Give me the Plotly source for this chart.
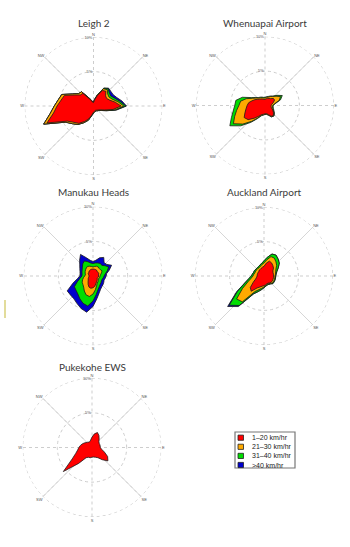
import plotly.graph_objects as go

W, H = 350, 547

directions = list(range(0, 360, 10))
speed_classes = ["1\u201320 km/hr", "21\u201330 km/hr", "31\u201340 km/hr", ">40 km/hr"]
class_colors = ["#ff0000", "#ffaa00", "#00dd00", "#0000cc"]
compass_vals = [0, 45, 90, 135, 180, 225, 270, 315]
compass_text = ["N", "NE", "E", "SE", "S", "SW", "W", "NW"]
radial_ticks = [5, 10]
radial_text = ["5%", "10%"]

# frequencies (%) per 10-degree direction bin, per speed class
leigh_1_20 = [0.5, 0.9, 1.6, 2.6, 2.8, 2.3, 2.2, 2.5, 3.2, 4.0, 2.9, 1.7, 1.1, 0.9, 0.8, 0.7, 0.7, 0.8,
              0.9, 1.3, 2.0, 2.6, 3.3, 3.7, 4.4, 7.2, 5.9, 5.3, 4.8, 4.5, 3.2, 2.5, 2.4, 1.2, 0.8, 0.5]
leigh_21_30 = [0.1, 0.1, 0.2, 0.3, 0.3, 0.4, 0.4, 0.4, 0.4, 0.4, 0.3, 0.2, 0.2, 0.1, 0.1, 0.1, 0.1, 0.1,
               0.1, 0.1, 0.2, 0.2, 0.2, 0.3, 0.3, 0.5, 0.5, 0.4, 0.4, 0.4, 0.3, 0.3, 0.3, 0.2, 0.1, 0.1]
leigh_31_40 = [0.0, 0.0, 0.0, 0.1, 0.2, 0.3, 0.3, 0.4, 0.3, 0.3, 0.1, 0.1, 0.0, 0.0, 0.0, 0.0, 0.0, 0.0,
               0.0, 0.0, 0.0, 0.0, 0.0, 0.0, 0.0, 0.0, 0.0, 0.0, 0.0, 0.0, 0.0, 0.0, 0.0, 0.0, 0.0, 0.0]
leigh_40 = [0.0, 0.0, 0.0, 0.0, 0.1, 0.3, 0.4, 0.3, 0.3, 0.1, 0.1, 0.0, 0.0, 0.0, 0.0, 0.0, 0.0, 0.0,
            0.0, 0.0, 0.0, 0.0, 0.0, 0.0, 0.0, 0.0, 0.0, 0.0, 0.0, 0.0, 0.0, 0.0, 0.0, 0.0, 0.0, 0.0]

whenuapai_1_20 = [0.9, 1.0, 1.1, 1.2, 1.3, 1.6, 1.6, 1.3, 1.0, 0.9, 0.9, 1.0, 1.3, 1.6, 1.9, 1.8, 1.4, 1.2,
                  1.2, 1.3, 1.4, 1.8, 2.4, 3.2, 3.5, 3.1, 2.8, 2.6, 2.4, 2.0, 1.7, 1.4, 1.2, 1.1, 1.0, 0.9]
whenuapai_21_30 = [0.2, 0.2, 0.2, 0.3, 0.4, 0.5, 1.0, 0.9, 0.4, 0.2, 0.2, 0.2, 0.1, 0.1, 0.1, 0.1, 0.1, 0.1,
                   0.1, 0.1, 0.1, 0.3, 0.6, 1.0, 1.8, 1.6, 1.4, 1.2, 1.2, 0.9, 0.4, 0.3, 0.2, 0.2, 0.2, 0.2]
whenuapai_31_40 = [0.1, 0.1, 0.1, 0.1, 0.1, 0.2, 0.3, 0.2, 0.1, 0.1, 0.1, 0.1, 0.1, 0.1, 0.0, 0.0, 0.0, 0.0,
                   0.0, 0.0, 0.1, 0.1, 0.2, 0.4, 0.6, 0.5, 0.5, 0.6, 0.7, 0.6, 0.2, 0.1, 0.1, 0.1, 0.1, 0.1]
whenuapai_40 = [0.0] * 36

manukau_1_20 = [1.0, 1.0, 1.0, 1.0, 0.9, 0.9, 0.9, 0.9, 0.8, 0.8, 0.8, 0.7, 0.7, 0.8, 0.9, 1.0, 1.2, 1.5,
                1.7, 1.8, 1.7, 1.4, 1.1, 0.9, 0.8, 0.7, 0.6, 0.6, 0.6, 0.7, 0.8, 0.8, 0.9, 0.9, 1.0, 1.0]
manukau_21_30 = [0.3, 0.4, 0.5, 0.5, 0.5, 0.5, 0.6, 0.4, 0.3, 0.2, 0.2, 0.2, 0.2, 0.2, 0.2, 0.2, 0.3, 0.5,
                 0.9, 1.2, 1.2, 1.1, 1.0, 1.0, 1.0, 0.9, 0.8, 0.6, 0.5, 0.5, 0.5, 0.6, 0.6, 0.7, 0.5, 0.4]
manukau_31_40 = [0.5, 0.5, 0.5, 0.6, 0.6, 0.9, 1.1, 0.9, 0.7, 0.6, 0.5, 0.5, 0.5, 0.5, 0.5, 0.6, 0.6, 0.7,
                 1.0, 1.4, 1.3, 1.3, 1.3, 1.3, 1.3, 0.8, 0.5, 0.4, 0.5, 0.5, 0.5, 0.6, 0.8, 0.9, 0.7, 0.5]
manukau_40 = [0.3, 0.4, 0.8, 1.0, 0.5, 0.3, 0.5, 0.3, 0.2, 0.3, 0.3, 0.3, 0.4, 0.4, 0.4, 0.4, 0.5, 0.6,
              0.8, 0.9, 0.8, 0.8, 0.9, 1.05, 1.2, 0.7, 0.4, 0.3, 0.3, 0.3, 0.4, 0.5, 0.7, 1.1, 0.6, 0.4]

auckland_1_20 = [1.4, 1.9, 2.3, 2.2, 2.0, 1.8, 1.5, 1.4, 1.4, 1.4, 1.4, 1.4, 1.4, 1.4, 1.3, 1.2, 1.2, 1.3,
                 1.4, 1.5, 1.7, 2.0, 2.9, 2.6, 1.8, 1.3, 1.1, 1.0, 1.0, 1.0, 1.0, 1.0, 1.1, 1.1, 1.2, 1.3]
auckland_21_30 = [0.5, 0.5, 0.7, 0.8, 0.7, 0.6, 0.5, 0.4, 0.3, 0.2, 0.2, 0.2, 0.2, 0.2, 0.1, 0.1, 0.1, 0.1,
                  0.2, 0.3, 0.4, 0.6, 2.0, 2.6, 1.8, 1.2, 0.8, 0.6, 0.5, 0.4, 0.4, 0.4, 0.3, 0.3, 0.3, 0.4]
auckland_31_40 = [0.3, 0.35, 0.4, 0.5, 0.5, 0.5, 0.4, 0.2, 0.1, 0.1, 0.1, 0.1, 0.1, 0.1, 0.1, 0.1, 0.1, 0.1,
                  0.1, 0.2, 0.3, 0.35, 0.7, 1.4, 0.85, 0.45, 0.35, 0.25, 0.2, 0.2, 0.2, 0.15, 0.15, 0.2, 0.2, 0.2]
auckland_40 = [0.0, 0.0, 0.0, 0.0, 0.0, 0.0, 0.0, 0.0, 0.0, 0.0, 0.0, 0.0, 0.0, 0.0, 0.0, 0.0, 0.0, 0.0,
               0.0, 0.0, 0.0, 0.05, 0.2, 0.3, 0.15, 0.05, 0.0, 0.0, 0.0, 0.0, 0.0, 0.0, 0.0, 0.0, 0.0, 0.0]

pukekohe_1_20 = [1.5, 2.0, 2.3, 2.0, 1.6, 1.3, 1.2, 1.2, 1.2, 1.2, 1.4, 1.9, 2.6, 3.0, 2.3, 1.7, 1.5, 1.4,
                 1.4, 1.5, 1.5, 1.7, 3.0, 5.4, 3.3, 2.5, 2.1, 1.9, 1.7, 1.5, 1.3, 1.1, 1.0, 0.9, 0.9, 1.1]
pukekohe_21_30 = [0.0] * 36
pukekohe_31_40 = [0.0] * 36
pukekohe_40 = [0.0] * 36

stations = ["Leigh 2", "Whenuapai Airport", "Manukau Heads", "Auckland Airport", "Pukekohe EWS"]
station_data = [
    [leigh_1_20, leigh_21_30, leigh_31_40, leigh_40],
    [whenuapai_1_20, whenuapai_21_30, whenuapai_31_40, whenuapai_40],
    [manukau_1_20, manukau_21_30, manukau_31_40, manukau_40],
    [auckland_1_20, auckland_21_30, auckland_31_40, auckland_40],
    [pukekohe_1_20, pukekohe_21_30, pukekohe_31_40, pukekohe_40],
]

# layout geometry (pixels): centre x, centre y, radius, title y
geom = [(93.5, 106, 69, 23), (265, 105.5, 69, 23), (93, 276, 69.5, 192),
        (264, 276, 69, 192), (92, 447.5, 69.5, 367)]

circle_theta = list(range(0, 361, 2))

fig = go.Figure()
layout_polars = {}

for i, (name, classes) in enumerate(zip(stations, station_data)):
    pid = "polar" if i == 0 else f"polar{i+1}"
    cx, cy, r, ty = geom[i]
    # outer (10%) ring, dotted
    fig.add_trace(go.Scatterpolar(
        r=[radial_ticks[-1]] * len(circle_theta), theta=circle_theta,
        mode="lines", line=dict(color="#cdcdcd", width=1, dash="dot"),
        showlegend=False, hoverinfo="skip", subplot=pid))
    # diagonal solid grid spokes
    fig.add_trace(go.Scatterpolar(
        r=[10, 0, 10, None, 10, 0, 10],
        theta=[45, 45, 225, None, 315, 315, 135],
        mode="lines", line=dict(color="#d6d6d6", width=1),
        showlegend=False, hoverinfo="skip", subplot=pid))
    # cumulative stacking
    cum = []
    running = [0.0] * len(directions)
    for vals in classes:
        running = [a + b for a, b in zip(running, vals)]
        cum.append(list(running))
    for k in range(3, -1, -1):
        if sum(classes[k]) == 0:
            continue
        rr = cum[k] + [cum[k][0]]
        tt = directions + [directions[0]]
        fig.add_trace(go.Scatterpolar(
            r=rr, theta=tt, mode="lines", fill="toself",
            fillcolor=class_colors[k],
            line=dict(color="#1a1a1a", width=0.8),
            name=speed_classes[k], showlegend=False, subplot=pid))
    layout_polars[pid] = dict(
        domain=dict(x=[(cx - r) / W, (cx + r) / W],
                    y=[(H - cy - r) / H, (H - cy + r) / H]),
        bgcolor="white",
        angularaxis=dict(direction="clockwise", rotation=90,
                         tickvals=compass_vals, ticktext=compass_text,
                         tickfont=dict(size=4, color="#555", family="Liberation Sans"),
                         ticks="", showline=False,
                         gridcolor="#cdcdcd", griddash="dot", gridwidth=1),
        radialaxis=dict(range=[0, 10.03], tickvals=radial_ticks, ticktext=radial_text,
                        angle=90, tickangle=90, side="counterclockwise",
                        showline=False, ticks="",
                        tickfont=dict(size=4, color="#555", family="Liberation Sans"),
                        gridcolor="#cdcdcd", griddash="dot", gridwidth=1),
    )
    fig.add_annotation(x=cx / W, y=1 - ty / H, xref="paper", yref="paper",
                       text=name, showarrow=False, xanchor="center", yanchor="middle",
                       font=dict(size=10, color="#3a3a3a", family="Lato"))

# legend drawn as a small box
shapes = []
lx0, lx1, ly0, ly1 = 235, 295, 432, 468
shapes.append(dict(type="rect", xref="paper", yref="paper",
                   x0=lx0 / W, x1=lx1 / W, y0=1 - ly1 / H, y1=1 - ly0 / H,
                   line=dict(color="#777", width=1.2), fillcolor="white", layer="below"))
for k, (lab, col) in enumerate(zip(speed_classes, class_colors)):
    yc = 437.7 + 9.1 * k
    shapes.append(dict(type="rect", xref="paper", yref="paper",
                       x0=238 / W, x1=243.5 / W, y0=1 - (yc + 2.6) / H, y1=1 - (yc - 2.6) / H,
                       line=dict(color="#222", width=0.8), fillcolor=col))
    fig.add_annotation(x=250 / W, y=1 - yc / H, xref="paper", yref="paper",
                       text=lab, showarrow=False, xanchor="left", yanchor="middle",
                       font=dict(size=7, color="#222", family="Liberation Sans"))

# small stray mark at left edge
shapes.append(dict(type="line", xref="paper", yref="paper",
                   x0=5 / W, x1=5 / W, y0=1 - 318 / H, y1=1 - 300 / H,
                   line=dict(color="#d8d07a", width=1.5)))

fig.update_layout(width=W, height=H, margin=dict(l=0, r=0, t=0, b=0),
                  paper_bgcolor="white", plot_bgcolor="white",
                  showlegend=False, shapes=shapes, **layout_polars)

fig.write_html("out.html")
